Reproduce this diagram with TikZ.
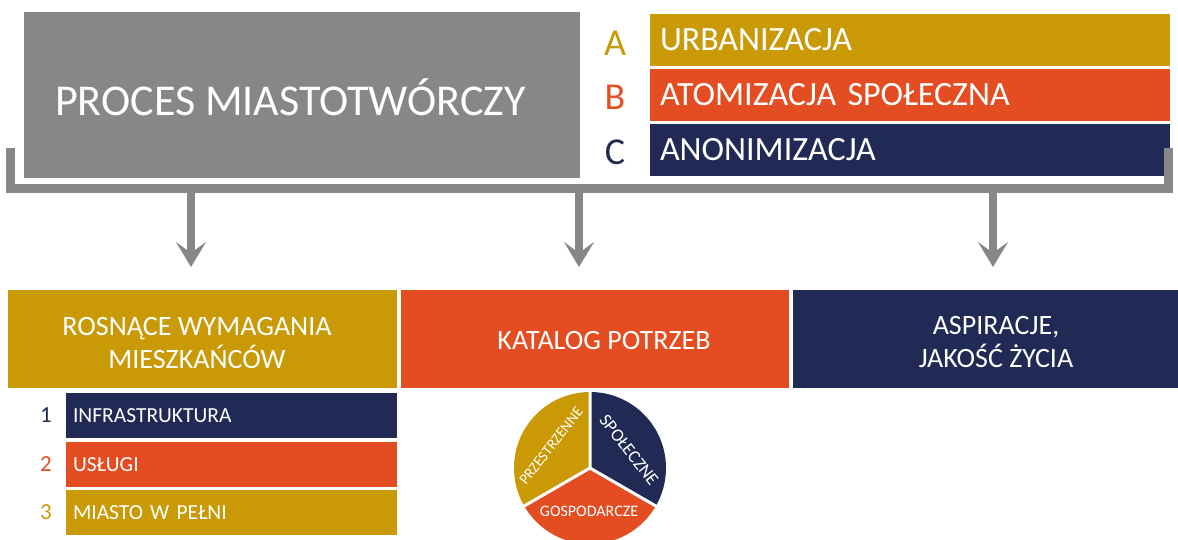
\documentclass[tikz,border=0pt]{standalone}
\usepackage{fontspec}
\setmainfont{Carlito}
\usetikzlibrary{arrows.meta}
\definecolor{cgold}{HTML}{C99A06}
\definecolor{corange}{HTML}{E44D21}
\definecolor{cnavy}{HTML}{202A55}
\definecolor{cgrey}{HTML}{878787}
\begin{document}
\begin{tikzpicture}[x=1pt,y=-1pt,
  fs/.style={font=\fontsize{#1}{#1}\selectfont},
  bar/.style={anchor=north west, minimum height=52pt, text width=500pt, inner xsep=10pt, inner ysep=0pt, outer sep=0pt, align=left, text=white, fs=34},
  subbar/.style={anchor=north west, minimum height=45pt, text width=317pt, inner xsep=7pt, inner ysep=0pt, outer sep=0pt, align=left, text=white, fs=21.5},
  bigbox/.style={anchor=north west, minimum height=98pt, inner sep=0pt, outer sep=0pt},
  boxtext/.style={align=center, text=white, fs=28, inner sep=0pt},
  letter/.style={fs=38, inner sep=0pt},
  num/.style={fs=23, inner sep=0pt},
  bracket/.style={draw=cgrey, line width=9pt},
  flow/.style={draw=cgrey, line width=8.5pt, -{Stealth[length=25pt, width=30pt, inset=11pt]}},
  pielabel/.style={text=white, inner sep=0pt},
]
\useasboundingbox (0,0) rectangle (1178,539);
\clip (0,0) rectangle (1178,539);

% top grey box
\node[anchor=north west, fill=cgrey, minimum width=556pt, minimum height=166pt, inner sep=0pt, outer sep=0pt] (proc) at (24,12) {};
\node[anchor=west, text=white, fs=44, inner sep=0pt] (proct) at (55,97) {PROCES MIASTOTWÓRCZY};

% A B C
\node[letter, text=cgold] (la) at (615,43) {A};
\node[letter, text=corange] (lb) at (615,97) {B};
\node[letter, text=cnavy] (lc) at (615,152) {C};
\node[bar, fill=cgold] (ba) at (650,14) {URBANIZACJA};
\node[bar, fill=corange] (bb) at (650,69) {ATOMIZACJA SPOŁECZNA};
\node[bar, fill=cnavy] (bc) at (650,124) {ANONIMIZACJA};

% bracket
\coordinate (bl) at (10,148);
\coordinate (br) at (1168,148);
\draw[bracket] (bl) -- (10,188) -- (1168,188) -- (br);
\coordinate (s1) at (191,188);
\coordinate (s2) at (579,188);
\coordinate (s3) at (993,188);
\coordinate (e1) at (191,267);
\coordinate (e2) at (579,267);
\coordinate (e3) at (993,267);
\draw[flow] (s1) -- (e1);
\draw[flow] (s2) -- (e2);
\draw[flow] (s3) -- (e3);

% bottom boxes
\node[bigbox, fill=cgold, minimum width=389pt] (g1) at (8,290) {};
\node[bigbox, fill=corange, minimum width=388pt] (g2) at (401,290) {};
\node[bigbox, fill=cnavy, minimum width=385pt] (g3) at (793,290) {};
\node[boxtext] (g1t) at (197,343) {ROSNĄCE WYMAGANIA\\[5pt]MIESZKAŃCÓW};
\node[boxtext] (g2t) at (604,341) {KATALOG POTRZEB};
\node[boxtext] (g3t) at (996,342) {ASPIRACJE,\\[5pt]JAKOŚĆ ŻYCIA};

% sub list
\node[num, text=cnavy] (n1) at (46,415) {1};
\node[num, text=corange] (n2) at (46,464) {2};
\node[num, text=cgold] (n3) at (46,512) {3};
\node[subbar, fill=cnavy] (s1b) at (66,393) {INFRASTRUKTURA};
\node[subbar, fill=corange] (s2b) at (66,442) {USŁUGI};
\node[subbar, fill=cgold] (s3b) at (66,490) {MIASTO W PEŁNI};

% pie
\begin{scope}[shift={(590,468)}, y=1pt]
  \fill[cnavy] (0,0) -- (90:76) arc (90:-30:76) -- cycle;
  \fill[cgold] (0,0) -- (90:76) arc (90:210:76) -- cycle;
  \fill[corange] (0,0) -- (210:76) arc (210:330:76) -- cycle;
  \draw[white, line width=3pt] (0,0) -- (90:77) (0,0) -- (210:77) (0,0) -- (330:77);
\end{scope}
\node[pielabel, fs=15, rotate=52] (p1) at (551,446) {PRZESTRZENNE};
\node[pielabel, fs=18, rotate=-52] (p2) at (629,450) {SPOŁECZNE};
\node[pielabel, fs=16] (p3) at (589,511) {GOSPODARCZE};
\end{tikzpicture}
\end{document}
